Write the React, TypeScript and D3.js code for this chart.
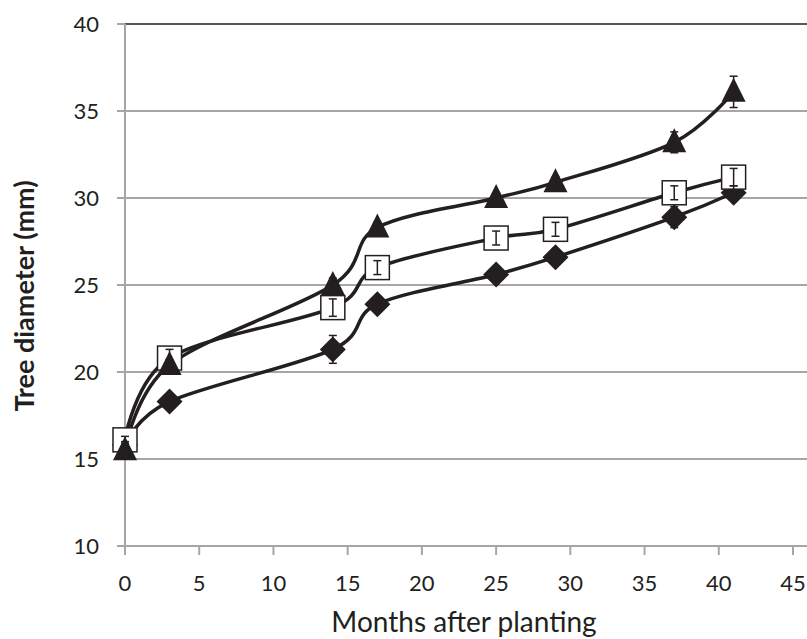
import * as d3 from "d3";

const months = [0, 3, 14, 17, 25, 29, 37, 41];

// mean tree diameter (mm) per treatment
const triangleMeans = [15.5, 20.4, 25.0, 28.3, 30.0, 30.9, 33.2, 36.1];
const triangleErr = [0.2, 0.3, 0.4, 0.3, 0.3, 0.3, 0.6, 0.9];
const squareMeans = [16.1, 20.8, 23.7, 26.0, 27.7, 28.2, 30.3, 31.2];
const squareErr = [0.2, 0.5, 0.5, 0.4, 0.4, 0.4, 0.4, 0.5];
const diamondMeans = [15.8, 18.3, 21.3, 23.9, 25.6, 26.6, 28.9, 30.3];
const diamondErr = [0.2, 0.2, 0.8, 0.4, 0.3, 0.3, 0.6, 0.4];

const xTicks = [0, 5, 10, 15, 20, 25, 30, 35, 40, 45];
const yTicks = [10, 15, 20, 25, 30, 35, 40];

const W = 807;
const H = 639;
const ink = "#231f20";
const grid = "#a6a6a6";
const font = "Lato, 'Open Sans', sans-serif";

const x = d3.scaleLinear().domain([0, 45]).range([125, 793]);
const y = d3.scaleLinear().domain([10, 40]).range([546, 24]);

const line = d3
  .line<number>()
  .x((_, i) => x(months[i]))
  .y((d) => y(d))
  .curve(d3.curveCatmullRom.alpha(0));

function ErrorBars({ means, err }) {
  return (
    <g stroke={ink} strokeWidth={1.5}>
      {means.map((m, i) => {
        const cx = x(months[i]);
        const top = y(m + err[i]);
        const bot = y(m - err[i]);
        return (
          <g key={i}>
            <line x1={cx} x2={cx} y1={top} y2={bot} />
            <line x1={cx - 4} x2={cx + 4} y1={top} y2={top} />
            <line x1={cx - 4} x2={cx + 4} y1={bot} y2={bot} />
          </g>
        );
      })}
    </g>
  );
}

export default function App() {
  const tri = (cx: number, cy: number) =>
    `M${cx},${cy - 14}L${cx + 12},${cy + 10}L${cx - 12},${cy + 10}Z`;
  const dia = (cx: number, cy: number) =>
    `M${cx},${cy - 13}L${cx + 13},${cy}L${cx},${cy + 13}L${cx - 13},${cy}Z`;

  return (
    <svg
      width={W}
      height={H}
      style={{ position: "absolute", left: 0, top: 0, background: "#fff" }}
      fontFamily={font}
    >
      {/* grid */}
      {yTicks.map((t) => (
        <line
          key={t}
          x1={117}
          x2={W}
          y1={y(t)}
          y2={y(t)}
          stroke={t === 40 ? ink : grid}
          strokeWidth={t === 40 ? 1.5 : 2}
        />
      ))}
      <line x1={x(0)} x2={x(0)} y1={y(40)} y2={y(10) + 9} stroke={grid} strokeWidth={2} />
      {xTicks.map((t) => (
        <line key={t} x1={x(t)} x2={x(t)} y1={y(10)} y2={y(10) + 9} stroke={grid} strokeWidth={2} />
      ))}
      <line x1={117} x2={125} y1={y(40)} y2={y(40)} stroke={grid} strokeWidth={2} />

      {/* tick labels */}
      {yTicks.map((t) => (
        <text key={t} x={99} y={y(t) + 7.5} textAnchor="end" fontSize={22} fill={ink}>
          {t}
        </text>
      ))}
      {xTicks.map((t) => (
        <text key={t} x={x(t)} y={591} textAnchor="middle" fontSize={22} fill={ink}>
          {t}
        </text>
      ))}

      <text x={464} y={632} textAnchor="middle" fontSize={28} fill={ink}>
        Months after planting
      </text>
      <text
        transform="translate(34,296) rotate(-90)"
        textAnchor="middle"
        fontSize={27}
        fontWeight="bold"
        fill={ink}
      >
        Tree diameter (mm)
      </text>

      {/* lines */}
      <g fill="none" stroke={ink} strokeWidth={3.5}>
        <path d={line(diamondMeans) ?? ""} />
        <path d={line(squareMeans) ?? ""} />
        <path d={line(triangleMeans) ?? ""} />
      </g>

      {/* markers */}
      {diamondMeans.map((m, i) => (
        <path key={"d" + i} d={dia(x(months[i]), y(m))} fill={ink} />
      ))}
      {squareMeans.map((m, i) => (
        <rect
          key={"s" + i}
          x={x(months[i]) - 12}
          y={y(m) - 12}
          width={24}
          height={24}
          fill="#fff"
          stroke={ink}
          strokeWidth={1.5}
        />
      ))}
      {triangleMeans.map((m, i) => (
        <path key={"t" + i} d={tri(x(months[i]), y(m))} fill={ink} />
      ))}

      <ErrorBars means={diamondMeans} err={diamondErr} />
      <ErrorBars means={squareMeans} err={squareErr} />
      <ErrorBars means={triangleMeans} err={triangleErr} />
    </svg>
  );
}
